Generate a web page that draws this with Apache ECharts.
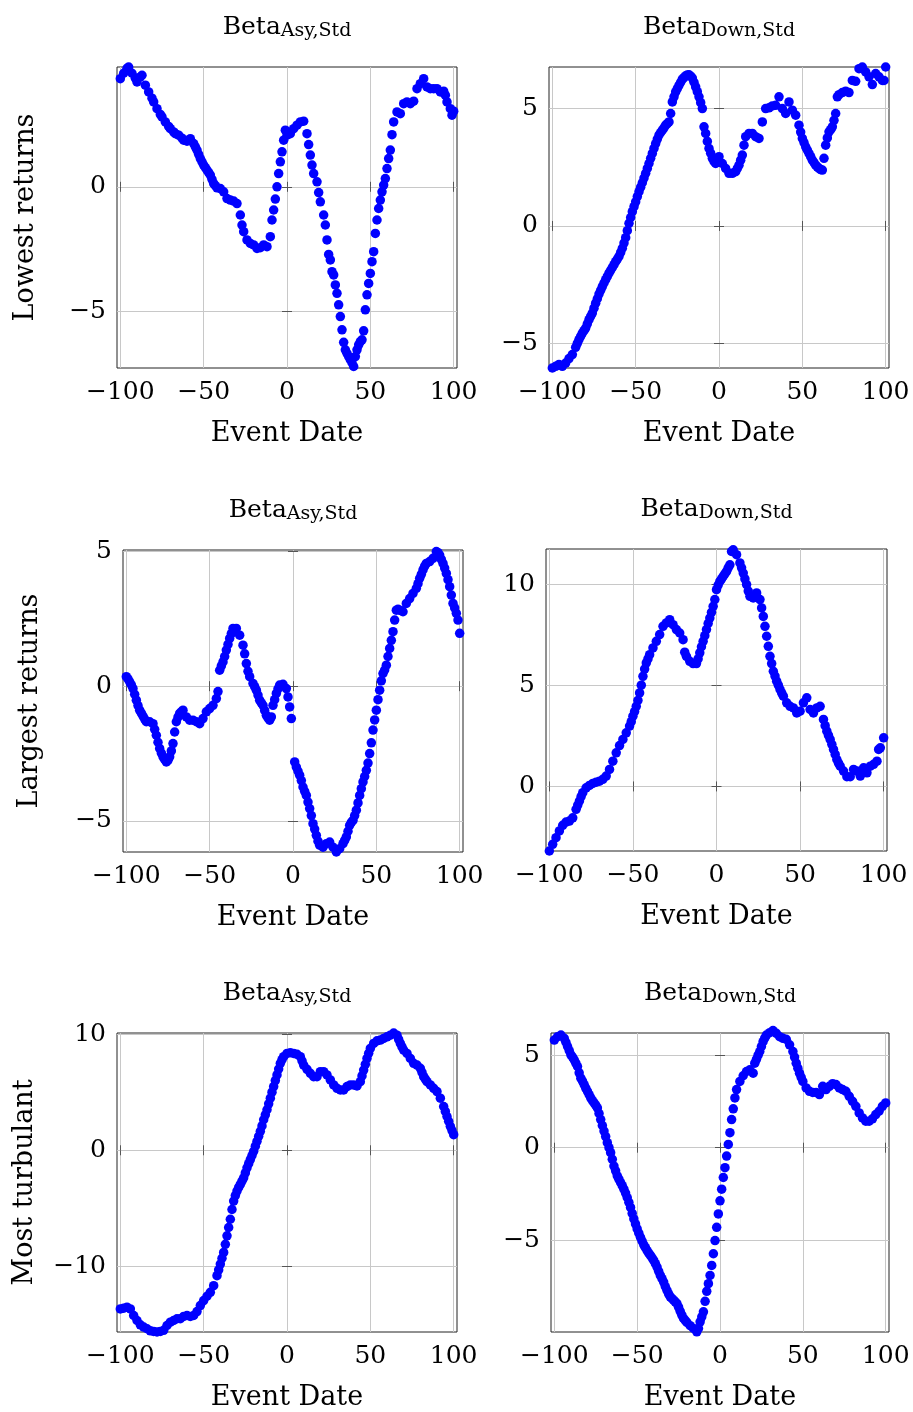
<!DOCTYPE html>
<html>
<head>
<meta charset="utf-8">
<script src="https://cdn.jsdelivr.net/npm/echarts@6/dist/echarts.min.js"></script>
<style>
  html, body { margin: 0; padding: 0; background: #fff; }
  #chart { width: 913px; height: 1412px; }
</style>
</head>
<body>
<div id="chart"></div>
<script>
// [event date, beta]
const lowestAsy = [[-100,4.33],[-98,4.55],[-96,4.75],[-95,4.8],[-93,4.55],[-91,4.35],[-90,4.2],[-88,4.4],[-87,4.47],[-85,4.07],[-83,3.8],[-81,3.55],[-80,3.4],[-78,3.13],[-76,2.9],[-75,2.8],[-73,2.6],[-71,2.42],[-70,2.33],[-68,2.2],[-67,2.13],[-65,2.07],[-63,1.95],[-62,1.87],[-60,1.83],[-58,1.93],[-56,1.73],[-55,1.6],[-54,1.47],[-53,1.3],[-52,1.13],[-51,1.0],[-50,0.87],[-49,0.77],[-48,0.67],[-47,0.57],[-46,0.47],[-45,0.3],[-44,0.13],[-43,0.05],[-42,-0.04],[-40,-0.07],[-38,-0.2],[-36,-0.47],[-34,-0.53],[-32,-0.57],[-30,-0.67],[-28,-1.13],[-27,-1.53],[-26,-1.8],[-24,-2.13],[-22,-2.27],[-20,-2.33],[-18,-2.47],[-16,-2.44],[-14,-2.33],[-12,-2.4],[-10,-2.0],[-9,-1.33],[-8,-0.93],[-7,-0.49],[-6,0],[-5,0.53],[-4,1.0],[-3,1.4],[-2,1.87],[-1,2.27],[0,2.07],[2,2.13],[4,2.33],[6,2.47],[8,2.6],[10,2.63],[12,2.13],[13,1.69],[14,1.27],[15,0.87],[16,0.53],[18,0.2],[19,-0.23],[20,-0.6],[22,-1.13],[23,-1.53],[24,-2.13],[25,-2.71],[26,-2.93],[27,-3.4],[28,-3.53],[29,-3.93],[30,-4.27],[31,-4.73],[32,-5.2],[33,-5.73],[34,-6.23],[35,-6.53],[36,-6.67],[37,-6.8],[38,-6.93],[39,-7.05],[40,-7.2],[41,-6.8],[42,-6.53],[43,-6.33],[44,-6.2],[45,-6.13],[46,-5.77],[47,-4.93],[48,-4.33],[49,-3.87],[50,-3.47],[51,-3.0],[52,-2.6],[53,-1.87],[54,-1.33],[55,-0.87],[56,-0.53],[57,-0.2],[58,0.07],[59,0.33],[60,0.73],[61,1.13],[62,1.47],[63,2.09],[64,2.6],[66,3.0],[68,2.93],[70,3.33],[72,3.4],[74,3.33],[76,3.43],[78,3.93],[80,4.13],[82,4.33],[84,4.0],[86,3.93],[88,3.93],[90,3.93],[92,3.8],[94,3.83],[95,3.67],[96,3.4],[98,3.13],[99,2.87],[100,3.03]];

const lowestDown = [[-100,-6.05],[-98,-5.98],[-96,-5.9],[-94,-5.98],[-92,-5.84],[-90,-5.65],[-88,-5.48],[-86,-5.17],[-85,-5.0],[-84,-4.84],[-83,-4.7],[-82,-4.56],[-81,-4.46],[-80,-4.35],[-79,-4.17],[-78,-3.99],[-77,-3.85],[-76,-3.71],[-75,-3.5],[-74,-3.29],[-73,-3.1],[-72,-2.9],[-71,-2.74],[-70,-2.58],[-69,-2.43],[-68,-2.29],[-67,-2.15],[-66,-2.01],[-65,-1.89],[-64,-1.77],[-63,-1.65],[-62,-1.52],[-61,-1.41],[-60,-1.3],[-59,-1.13],[-58,-0.95],[-57,-0.73],[-56,-0.5],[-55,-0.2],[-54,0.11],[-53,0.36],[-52,0.61],[-51,0.82],[-50,1.03],[-49,1.25],[-48,1.46],[-47,1.65],[-46,1.84],[-45,2.04],[-44,2.24],[-43,2.45],[-42,2.66],[-41,2.88],[-40,3.09],[-39,3.3],[-38,3.51],[-37,3.7],[-36,3.87],[-35,3.98],[-34,4.08],[-33,4.18],[-32,4.29],[-31,4.36],[-30,4.43],[-29,4.79],[-28,5.28],[-27,5.5],[-26,5.71],[-25,5.85],[-24,5.99],[-23,6.12],[-22,6.25],[-21,6.32],[-20,6.39],[-19,6.43],[-18,6.44],[-17,6.38],[-16,6.3],[-15,6.12],[-14,5.92],[-13,5.72],[-12,5.5],[-11,5.25],[-10,5.0],[-9,4.22],[-8,3.94],[-7,3.6],[-6,3.3],[-5,3.1],[-4,2.88],[-3,2.75],[-2,2.66],[-1,2.8],[0,2.95],[2,2.66],[4,2.45],[6,2.24],[8,2.24],[10,2.31],[11,2.45],[12,2.59],[13,2.8],[14,3.02],[15,3.44],[16,3.8],[18,3.94],[20,3.94],[22,3.8],[24,3.73],[26,4.43],[28,5.0],[30,5.03],[32,5.11],[34,5.14],[36,5.5],[38,5.0],[40,4.79],[42,5.28],[44,4.93],[46,4.72],[48,4.29],[49,4.0],[50,3.73],[51,3.55],[52,3.37],[53,3.23],[54,3.09],[55,2.95],[56,2.8],[57,2.7],[58,2.59],[59,2.52],[60,2.45],[61,2.4],[62,2.38],[63,2.88],[64,3.44],[65,3.75],[66,4.01],[67,4.1],[68,4.22],[69,4.5],[70,4.79],[71,5.5],[72,5.59],[74,5.68],[76,5.74],[78,5.68],[80,6.2],[82,6.16],[84,6.7],[86,6.77],[88,6.56],[90,6.35],[92,6.02],[94,6.49],[96,6.35],[98,6.2],[99,6.2],[100,6.77]];

const largestAsy = [[-100,0.35],[-99,0.27],[-98,0.16],[-97,0.05],[-96,-0.09],[-95,-0.3],[-94,-0.52],[-93,-0.72],[-92,-0.89],[-91,-1.0],[-90,-1.11],[-89,-1.22],[-88,-1.32],[-86,-1.32],[-84,-1.39],[-83,-1.6],[-82,-1.82],[-81,-2.08],[-80,-2.31],[-79,-2.48],[-78,-2.62],[-77,-2.72],[-76,-2.81],[-75,-2.75],[-74,-2.62],[-73,-2.4],[-72,-2.13],[-71,-1.7],[-70,-1.32],[-69,-1.15],[-68,-1.01],[-67,-0.95],[-66,-0.89],[-64,-1.14],[-62,-1.26],[-60,-1.26],[-58,-1.32],[-56,-1.39],[-54,-1.2],[-52,-0.95],[-50,-0.83],[-48,-0.71],[-46,-0.46],[-45,-0.2],[-44,0.59],[-43,0.75],[-42,0.9],[-41,1.1],[-40,1.34],[-39,1.55],[-38,1.77],[-37,1.95],[-36,2.14],[-34,2.14],[-32,1.89],[-30,1.52],[-29,1.2],[-28,0.84],[-27,0.55],[-26,0.35],[-24,0.1],[-23,-0.02],[-22,-0.15],[-21,-0.33],[-20,-0.52],[-19,-0.62],[-18,-0.71],[-17,-0.9],[-16,-1.08],[-15,-1.18],[-14,-1.26],[-13,-1.14],[-12,-0.71],[-11,-0.5],[-10,-0.27],[-9,-0.1],[-8,0.04],[-6,0.07],[-4,-0.09],[-3,-0.4],[-2,-0.77],[-1,-1.2],[1,-2.81],[2,-3.0],[3,-3.15],[4,-3.3],[5,-3.5],[6,-3.74],[7,-3.9],[8,-4.05],[9,-4.3],[10,-4.54],[11,-4.8],[12,-5.1],[13,-5.3],[14,-5.53],[15,-5.75],[16,-5.9],[18,-5.97],[20,-5.84],[22,-5.78],[24,-5.97],[26,-6.15],[28,-6.03],[30,-5.84],[31,-5.72],[32,-5.59],[33,-5.38],[34,-5.16],[35,-5.05],[36,-4.98],[37,-4.8],[38,-4.6],[39,-4.33],[40,-4.05],[41,-3.8],[42,-3.55],[43,-3.35],[44,-3.12],[45,-2.85],[46,-2.5],[47,-2.1],[48,-1.63],[49,-1.25],[50,-0.89],[51,-0.5],[52,-0.15],[53,0.2],[54,0.47],[55,0.6],[56,0.78],[57,1.1],[58,1.4],[59,1.7],[60,2.02],[61,2.45],[62,2.82],[63,2.85],[64,2.82],[65,2.8],[66,2.76],[68,3.07],[70,3.25],[72,3.44],[74,3.63],[75,3.8],[76,4.0],[77,4.15],[78,4.31],[79,4.45],[80,4.55],[82,4.62],[84,4.74],[86,4.99],[87,4.95],[88,4.86],[89,4.7],[90,4.55],[91,4.38],[92,4.18],[93,3.95],[94,3.69],[95,3.38],[96,3.07],[97,2.9],[98,2.7],[99,2.45],[100,1.96]];

const largestDown = [[-100,-3.19],[-98,-2.86],[-96,-2.53],[-94,-2.2],[-92,-1.92],[-90,-1.76],[-88,-1.71],[-86,-1.55],[-84,-1.13],[-83,-0.92],[-82,-0.72],[-81,-0.5],[-80,-0.31],[-78,-0.07],[-76,0.05],[-74,0.15],[-72,0.21],[-70,0.26],[-68,0.35],[-66,0.51],[-64,0.84],[-62,1.25],[-60,1.66],[-58,2.02],[-56,2.32],[-54,2.65],[-52,2.98],[-51,3.2],[-50,3.47],[-49,3.7],[-48,3.96],[-47,4.25],[-46,4.62],[-45,5.0],[-44,5.44],[-43,5.8],[-42,6.1],[-41,6.3],[-40,6.51],[-38,6.84],[-36,7.17],[-34,7.5],[-32,7.91],[-30,8.08],[-28,8.24],[-26,7.99],[-24,7.75],[-22,7.58],[-20,7.25],[-19,6.63],[-18,6.43],[-16,6.18],[-14,6.07],[-12,6.07],[-11,6.3],[-10,6.6],[-9,6.9],[-8,7.17],[-7,7.45],[-6,7.75],[-5,8.05],[-4,8.32],[-3,8.6],[-2,8.9],[-1,9.23],[0,9.72],[1,9.95],[2,10.13],[3,10.25],[4,10.38],[5,10.5],[6,10.62],[7,10.8],[8,10.95],[9,11.61],[10,11.69],[12,11.45],[14,11.04],[15,10.8],[16,10.54],[17,10.25],[18,9.97],[19,9.65],[20,9.39],[22,9.31],[24,9.56],[26,9.23],[27,8.82],[28,8.4],[29,7.91],[30,7.42],[31,6.92],[32,6.43],[33,6.07],[34,5.69],[35,5.45],[36,5.2],[37,5.0],[38,4.79],[39,4.62],[40,4.46],[42,4.13],[44,3.96],[46,3.88],[48,3.63],[50,3.72],[52,4.13],[54,4.38],[56,3.8],[58,3.63],[60,3.88],[62,3.96],[64,3.31],[65,3.0],[66,2.73],[67,2.52],[68,2.32],[69,2.08],[70,1.83],[71,1.58],[72,1.33],[73,1.15],[74,1.0],[76,0.76],[78,0.48],[80,0.48],[82,0.84],[84,0.76],[86,0.51],[88,0.92],[90,0.67],[92,1.0],[94,1.09],[96,1.25],[97,1.83],[98,1.91],[100,2.4]];

const turbulentAsy = [[-100,-13.66],[-98,-13.6],[-96,-13.51],[-94,-13.66],[-92,-14.23],[-90,-14.66],[-88,-15.03],[-86,-15.23],[-84,-15.37],[-82,-15.55],[-80,-15.6],[-78,-15.65],[-76,-15.6],[-74,-15.51],[-72,-15.09],[-70,-14.8],[-68,-14.66],[-66,-14.51],[-64,-14.51],[-62,-14.31],[-60,-14.23],[-58,-14.31],[-56,-14.23],[-54,-13.89],[-52,-13.37],[-50,-12.94],[-48,-12.57],[-46,-12.23],[-44,-11.66],[-42,-10.8],[-41,-10.3],[-40,-9.8],[-39,-9.3],[-38,-8.8],[-37,-8.1],[-36,-7.37],[-35,-6.65],[-34,-5.94],[-33,-5.1],[-32,-4.37],[-31,-3.9],[-30,-3.51],[-29,-3.2],[-28,-2.94],[-27,-2.65],[-26,-2.37],[-25,-1.95],[-24,-1.51],[-23,-1.15],[-22,-0.8],[-21,-0.45],[-20,-0.09],[-19,0.35],[-18,0.77],[-17,1.2],[-16,1.63],[-15,2.1],[-14,2.63],[-13,3.05],[-12,3.49],[-11,4.0],[-10,4.49],[-9,5.0],[-8,5.49],[-7,6.0],[-6,6.49],[-5,7.0],[-4,7.49],[-3,7.8],[-2,8.06],[0,8.34],[2,8.4],[4,8.34],[6,8.26],[8,8.06],[9,7.7],[10,7.34],[12,6.97],[14,6.63],[16,6.34],[18,6.34],[20,6.77],[22,6.77],[24,6.49],[26,6.06],[28,5.63],[30,5.34],[32,5.2],[34,5.2],[36,5.49],[38,5.63],[40,5.63],[42,5.54],[44,5.91],[45,6.4],[46,6.91],[47,7.4],[48,7.91],[49,8.35],[50,8.77],[52,9.2],[54,9.43],[56,9.49],[58,9.63],[60,9.77],[62,9.91],[64,10.1],[66,9.91],[67,9.55],[68,9.2],[69,8.9],[70,8.63],[72,8.34],[74,7.91],[76,7.49],[78,7.34],[80,7.06],[81,6.7],[82,6.34],[83,6.12],[84,5.91],[86,5.63],[88,5.34],[90,5.06],[92,4.49],[94,3.77],[95,3.35],[96,2.91],[97,2.5],[98,2.06],[99,1.7],[100,1.34]];

const turbulentDown = [[-100,5.82],[-98,6.0],[-96,6.09],[-94,5.91],[-93,5.7],[-92,5.47],[-91,5.25],[-90,5.02],[-89,4.9],[-88,4.75],[-87,4.57],[-86,4.39],[-85,4.05],[-84,3.76],[-83,3.6],[-82,3.41],[-81,3.22],[-80,3.05],[-79,2.87],[-78,2.69],[-77,2.55],[-76,2.42],[-75,2.3],[-74,2.15],[-73,1.85],[-72,1.52],[-71,1.2],[-70,0.9],[-69,0.6],[-68,0.27],[-67,0.0],[-66,-0.27],[-65,-0.63],[-64,-0.99],[-63,-1.25],[-62,-1.52],[-61,-1.7],[-60,-1.88],[-59,-2.05],[-58,-2.24],[-57,-2.45],[-56,-2.69],[-55,-2.95],[-54,-3.23],[-53,-3.55],[-52,-3.85],[-51,-4.12],[-50,-4.39],[-49,-4.62],[-48,-4.84],[-47,-5.05],[-46,-5.25],[-45,-5.4],[-44,-5.56],[-43,-5.7],[-42,-5.82],[-41,-5.95],[-40,-6.09],[-39,-6.27],[-38,-6.45],[-37,-6.68],[-36,-6.9],[-35,-7.08],[-34,-7.26],[-33,-7.5],[-32,-7.71],[-31,-7.9],[-30,-8.06],[-29,-8.15],[-28,-8.24],[-27,-8.33],[-26,-8.42],[-25,-8.62],[-24,-8.84],[-23,-9.05],[-22,-9.23],[-21,-9.33],[-20,-9.44],[-18,-9.62],[-16,-9.77],[-14,-9.95],[-13,-9.77],[-12,-9.41],[-11,-9.14],[-10,-8.87],[-9,-8.3],[-8,-7.76],[-7,-7.35],[-6,-6.9],[-5,-6.36],[-4,-5.73],[-3,-5.02],[-2,-4.3],[-1,-3.58],[0,-2.87],[1,-2.24],[2,-1.61],[3,-1.08],[4,-0.45],[5,0.18],[6,0.81],[7,1.52],[8,2.1],[9,2.69],[10,3.14],[12,3.58],[14,3.89],[16,4.12],[18,4.21],[20,4.03],[21,4.57],[22,4.78],[23,5.0],[24,5.2],[25,5.47],[26,5.73],[27,5.92],[28,6.09],[30,6.22],[32,6.33],[34,6.18],[36,6.0],[38,5.91],[40,5.86],[42,5.56],[44,5.2],[45,4.9],[46,4.57],[47,4.3],[48,4.03],[49,3.8],[50,3.58],[52,3.23],[54,3.05],[56,2.99],[58,2.99],[60,2.87],[62,3.32],[64,3.14],[66,3.32],[68,3.46],[70,3.41],[72,3.23],[74,3.14],[76,3.05],[78,2.78],[80,2.51],[82,2.24],[84,1.88],[86,1.61],[88,1.43],[90,1.43],[92,1.56],[94,1.79],[96,1.97],[98,2.24],[100,2.42]];

const xTicks = [-100, -50, 0, 50, 100];
const rowNames = ['Lowest returns', 'Largest returns', 'Most turbulant'];
const colSubs = ['Asy,Std', 'Down,Std'];

const panels = [
  { data: lowestAsy,     yMin: -7.26,  yMax: 4.8,   yTicks: [-5, 0] },
  { data: lowestDown,    yMin: -6.05,  yMax: 6.77,  yTicks: [-5, 0, 5] },
  { data: largestAsy,    yMin: -6.15,  yMax: 5.05,  yTicks: [-5, 0, 5] },
  { data: largestDown,   yMin: -3.19,  yMax: 11.73, yTicks: [0, 5, 10] },
  { data: turbulentAsy,  yMin: -15.65, yMax: 10.1,  yTicks: [-10, 0, 10] },
  { data: turbulentDown, yMin: -9.96,  yMax: 6.2,   yTicks: [-5, 0, 5] }
];

// plot boxes [left, top, width, height]
const boxes = [
  [117, 67, 340, 301], [549, 67, 340, 301],
  [123, 550, 340, 302], [546, 549, 341, 302],
  [117, 1033, 340, 300], [551, 1033, 338, 301]
];
const yNameGaps = [78, 80, 79];

const FONT = 'DejaVu Serif';
const minus = v => (v < 0 ? '\u2212' + Math.abs(v) : String(v));
const tickStyle = { inside: true, length: 5, lineStyle: { color: '#555', width: 1 } };

const grid = [], xAxis = [], yAxis = [], series = [];
panels.forEach((p, i) => {
  const [l, t, w, h] = boxes[i];
  const row = Math.floor(i / 2), col = i % 2;
  grid.push({ left: l, top: t, width: w, height: h, show: true, borderColor: '#222', borderWidth: 1, backgroundColor: 'transparent' });

  xAxis.push({
    type: 'value', gridIndex: i, min: -102, max: 102, position: 'bottom',
    axisLine: { show: false },
    axisTick: Object.assign({ customValues: xTicks }, tickStyle),
    axisLabel: { customValues: xTicks, formatter: minus, fontFamily: FONT, fontSize: 25, color: '#000', margin: 12 },
    splitLine: { show: true, lineStyle: { color: '#c8c8c8', width: 1 } },
    name: 'Event Date', nameLocation: 'middle', nameGap: 52,
    nameTextStyle: { fontFamily: FONT, fontSize: 27, color: '#000' }
  });
  xAxis.push({
    type: 'value', gridIndex: i, min: -102, max: 102, position: 'top',
    axisLine: { show: false },
    axisTick: Object.assign({ customValues: xTicks }, tickStyle),
    axisLabel: { show: false }, splitLine: { show: false },
    name: '{b|Beta}{s|' + colSubs[col] + '}', nameLocation: 'middle', nameGap: 26,
    nameTextStyle: {
      color: '#000',
      rich: {
        b: { fontFamily: FONT, fontSize: 25, lineHeight: 26, verticalAlign: 'top', color: '#000' },
        s: { fontFamily: FONT, fontSize: 19, lineHeight: 8, verticalAlign: 'bottom', color: '#000' }
      }
    }
  });

  const yLeft = {
    type: 'value', gridIndex: i, min: p.yMin, max: p.yMax, position: 'left',
    axisLine: { show: false },
    axisTick: Object.assign({ customValues: p.yTicks }, tickStyle),
    axisLabel: { customValues: p.yTicks, formatter: minus, fontFamily: FONT, fontSize: 25, color: '#000', margin: 11 },
    splitLine: { show: true, lineStyle: { color: '#c8c8c8', width: 1 } }
  };
  if (col === 0) {
    Object.assign(yLeft, {
      name: rowNames[row], nameLocation: 'middle', nameGap: yNameGaps[row],
      nameTextStyle: { fontFamily: FONT, fontSize: 27, color: '#000' }
    });
  }
  yAxis.push(yLeft);
  yAxis.push({
    type: 'value', gridIndex: i, min: p.yMin, max: p.yMax, position: 'right',
    axisLine: { show: false },
    axisTick: Object.assign({ customValues: p.yTicks }, tickStyle),
    axisLabel: { show: false }, splitLine: { show: false }
  });

  series.push({
    type: 'scatter', xAxisIndex: 2 * i, yAxisIndex: 2 * i,
    data: p.data, symbol: 'circle', symbolSize: 9.5, clip: false,
    itemStyle: { color: '#0000ff', opacity: 1 },
    emphasis: { disabled: true }
  });
});

const chart = echarts.init(document.getElementById('chart'), null, { renderer: 'canvas' });
chart.setOption({
  animation: false,
  backgroundColor: '#fff',
  textStyle: { fontFamily: FONT },
  grid, xAxis, yAxis, series
});
</script>
</body>
</html>
